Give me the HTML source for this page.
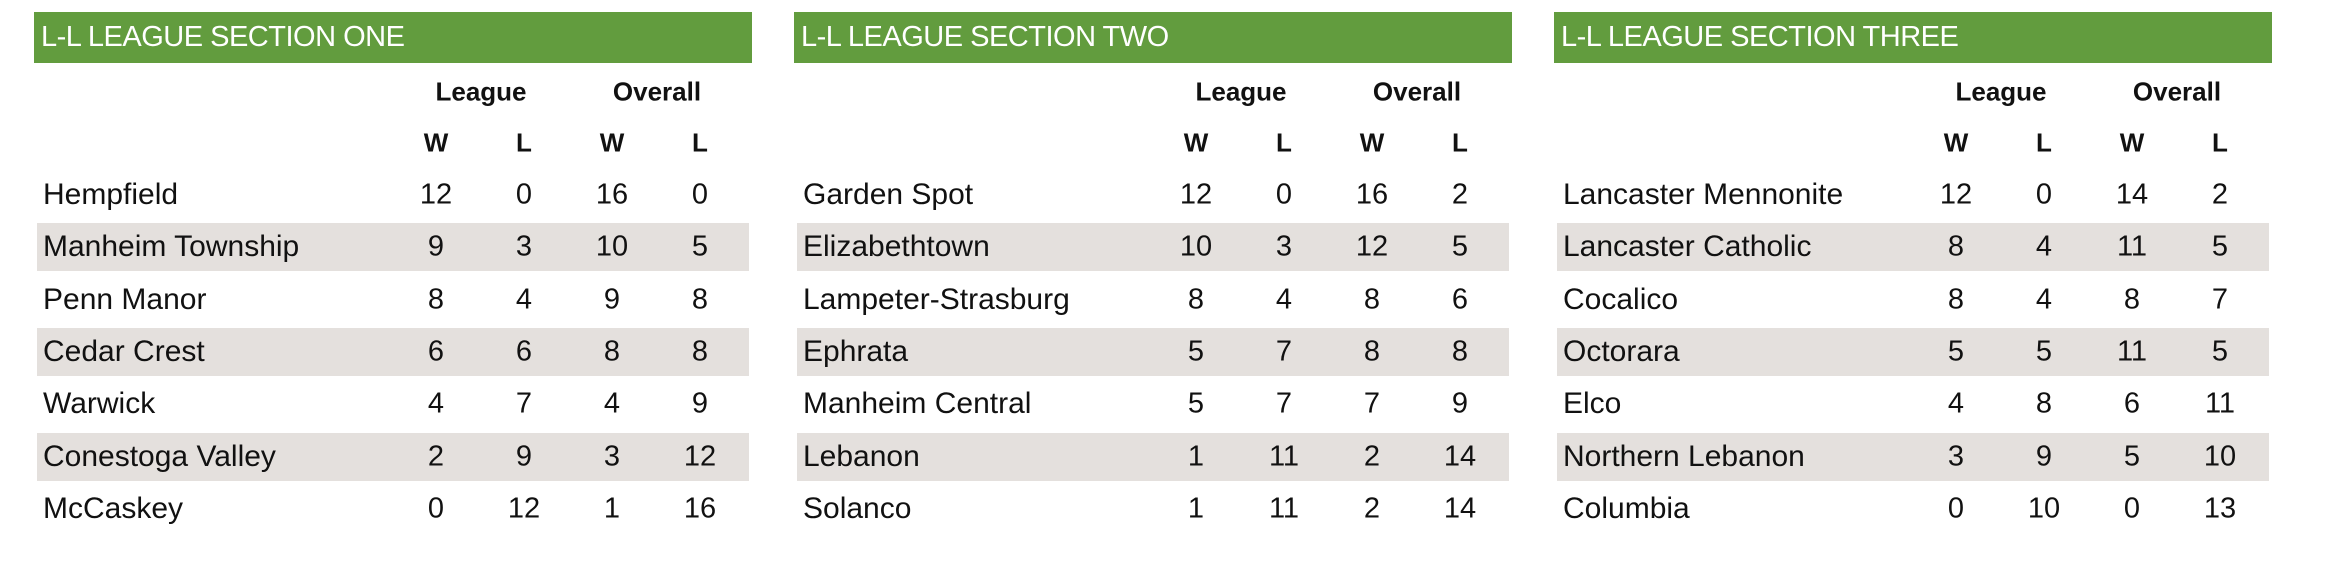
<!DOCTYPE html>
<html><head><meta charset="utf-8"><style>
body{margin:0;width:2336px;height:578px;background:#fff;position:relative;overflow:hidden;font-family:"Liberation Sans",sans-serif;color:#111}
.panel{position:absolute;top:0;width:718px;height:578px}
.hdr{position:absolute;left:0;top:12px;width:718px;height:51px;background:#629c3e;color:#fff;font-size:29px;line-height:51px;box-sizing:border-box;padding-left:7px;letter-spacing:-0.5px}
.t{position:absolute;transform:translate(-50%,-50%);white-space:nowrap;font-size:29px}
.b{font-weight:bold;font-size:26px}
.shade{position:absolute;left:3px;width:712px;height:48px;background:#e4e0dd}
.name{position:absolute;left:9px;transform:translateY(-50%);font-size:30px;white-space:nowrap}
</style></head><body>
<div id="root"></div>
<script>
const titles=["L-L LEAGUE SECTION ONE","L-L LEAGUE SECTION TWO","L-L LEAGUE SECTION THREE"];
const teams1=["Hempfield","Manheim Township","Penn Manor","Cedar Crest","Warwick","Conestoga Valley","McCaskey"];
const rec1=[[12,0,16,0],[9,3,10,5],[8,4,9,8],[6,6,8,8],[4,7,4,9],[2,9,3,12],[0,12,1,16]];
const teams2=["Garden Spot","Elizabethtown","Lampeter-Strasburg","Ephrata","Manheim Central","Lebanon","Solanco"];
const rec2=[[12,0,16,2],[10,3,12,5],[8,4,8,6],[5,7,8,8],[5,7,7,9],[1,11,2,14],[1,11,2,14]];
const teams3=["Lancaster Mennonite","Lancaster Catholic","Cocalico","Octorara","Elco","Northern Lebanon","Columbia"];
const rec3=[[12,0,14,2],[8,4,11,5],[8,4,8,7],[5,5,11,5],[4,8,6,11],[3,9,5,10],[0,10,0,13]];
const teams=[teams1,teams2,teams3], recs=[rec1,rec2,rec3];
const root=document.getElementById('root');
const colX=[402,490,578,666], rowY=i=>195+i*52.3;
function mk(parent,cls,txt,x,y){const d=document.createElement('div');d.className=cls;if(txt!==null)d.textContent=txt;if(x!==null)d.style.left=x+'px';if(y!==null)d.style.top=y+'px';parent.appendChild(d);return d;}
titles.forEach((ti,p)=>{
  const pn=mk(root,'panel',null,34+p*760,0);
  
  
  const h=mk(pn,'hdr',ti,null,null);
  
  
  const lg=mk(pn,'t b','League',447,92);
  
  
  const ov=mk(pn,'t b','Overall',623,92);
  
  
  ['W','L','W','L'].forEach((c,j)=>{const e=mk(pn,'t b',c,colX[j],143);
    
    });
  teams[p].forEach((tm,i)=>{
    if(i%2==1){const s=mk(pn,'shade',null,null,rowY(i)-24);
      
      }
    const n=mk(pn,'name',tm,null,rowY(i));
    
    
    recs[p][i].forEach((v,j)=>{const e=mk(pn,'t',String(v),colX[j],rowY(i));
      
      });
  });
});
</script>
</body></html>
